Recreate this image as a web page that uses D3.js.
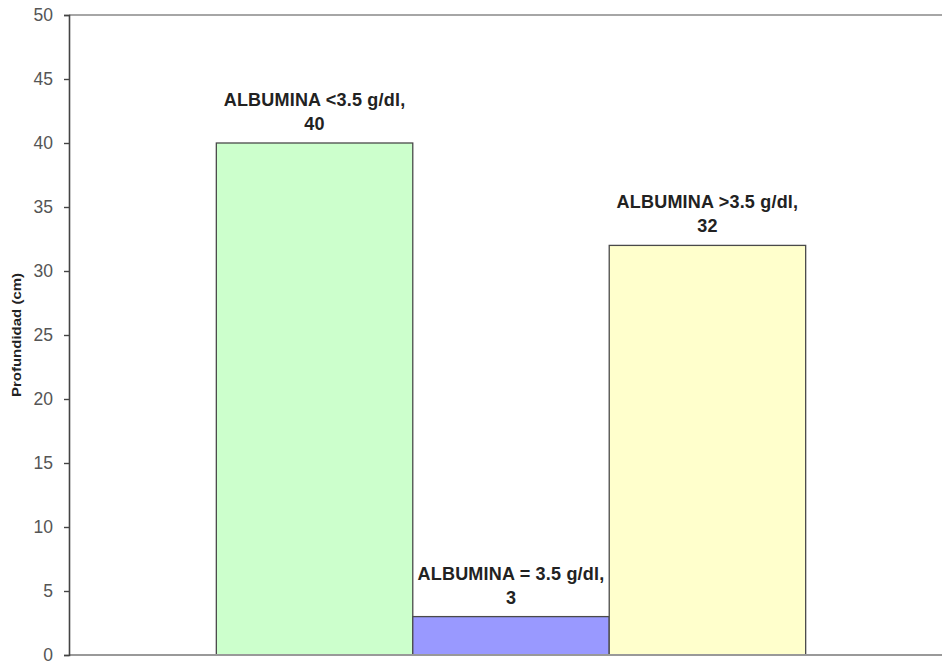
<!DOCTYPE html>
<html>
<head>
<meta charset="utf-8">
<script src="https://cdn.jsdelivr.net/npm/d3@7"></script>
<style>
  html, body { margin: 0; padding: 0; background: #fff; }
  svg { display: block; }
</style>
</head>
<body>
<div id="chart"></div>
<script>
// Depth by albumin level
const categories = ["ALBUMINA <3.5 g/dl,", "ALBUMINA = 3.5 g/dl,", "ALBUMINA >3.5 g/dl,"];
const values = [40, 3, 32];
const colors = ["#CCFFCC", "#9999FF", "#FFFFCC"];
const yTicks = [0, 5, 10, 15, 20, 25, 30, 35, 40, 45, 50];
const yTitle = "Profundidad (cm)";

const width = 942, height = 661;
const plot = { left: 69, right: 953, top: 15, bottom: 655 };
const font = "Liberation Sans, Arial, sans-serif";

const svg = d3.select("#chart").append("svg")
  .attr("width", width).attr("height", height);

const y = d3.scaleLinear().domain([0, 50]).range([plot.bottom, plot.top]);

// one category holding three adjacent series bars, gap of 150% of a bar width
const barW = (plot.right - plot.left) / (categories.length + 1.5);
const x = d3.scaleBand().domain(categories)
  .range([plot.left + barW * 0.75, plot.right - barW * 0.75])
  .paddingInner(0).paddingOuter(0);

// plot border top
svg.append("line")
  .attr("x1", plot.left).attr("x2", plot.right)
  .attr("y1", plot.top).attr("y2", plot.top)
  .attr("stroke", "#888").attr("stroke-width", 1.5);

// bars
svg.selectAll("rect.bar").data(values).enter().append("rect")
  .attr("class", "bar")
  .attr("x", (d, i) => x(categories[i]))
  .attr("width", x.bandwidth())
  .attr("y", d => y(d))
  .attr("height", d => y(0) - y(d))
  .attr("fill", (d, i) => colors[i])
  .attr("stroke", "#4a4a4a").attr("stroke-width", 1.3);

// bottom axis line
svg.append("line")
  .attr("x1", plot.left).attr("x2", plot.right)
  .attr("y1", plot.bottom).attr("y2", plot.bottom)
  .attr("stroke", "#999").attr("stroke-width", 2);

// y axis
const yAxis = svg.append("g")
  .attr("transform", `translate(${plot.left},0)`)
  .call(d3.axisLeft(y).tickValues(yTicks).tickSize(5).tickPadding(11));
yAxis.select(".domain").attr("stroke", "#444").attr("stroke-width", 1.6);
yAxis.selectAll(".tick line").attr("stroke", "#444").attr("stroke-width", 1.4);
yAxis.selectAll(".tick text")
  .attr("font-family", font)
  .attr("font-size", 17.5).attr("fill", "#555");

// y axis title
svg.append("text")
  .attr("transform", `translate(21,${(plot.top + plot.bottom) / 2}) rotate(-90) scale(1.25,1)`)
  .attr("text-anchor", "middle")
  .attr("font-family", font)
  .attr("font-weight", "bold").attr("font-size", 12).attr("fill", "#222")
  .text(yTitle);

// data labels: series name and value above each bar
const labels = svg.selectAll("text.lbl").data(values).enter().append("text")
  .attr("class", "lbl")
  .attr("text-anchor", "middle")
  .attr("font-family", font)
  .attr("font-weight", "bold").attr("font-size", 18)
  .attr("letter-spacing", 0.2)
  .attr("fill", "#222");
labels.append("tspan")
  .attr("x", (d, i) => x(categories[i]) + x.bandwidth() / 2)
  .attr("y", d => y(d) - 37)
  .text((d, i) => categories[i]);
labels.append("tspan")
  .attr("x", (d, i) => x(categories[i]) + x.bandwidth() / 2)
  .attr("y", d => y(d) - 13)
  .text(d => d);
</script>
</body>
</html>
